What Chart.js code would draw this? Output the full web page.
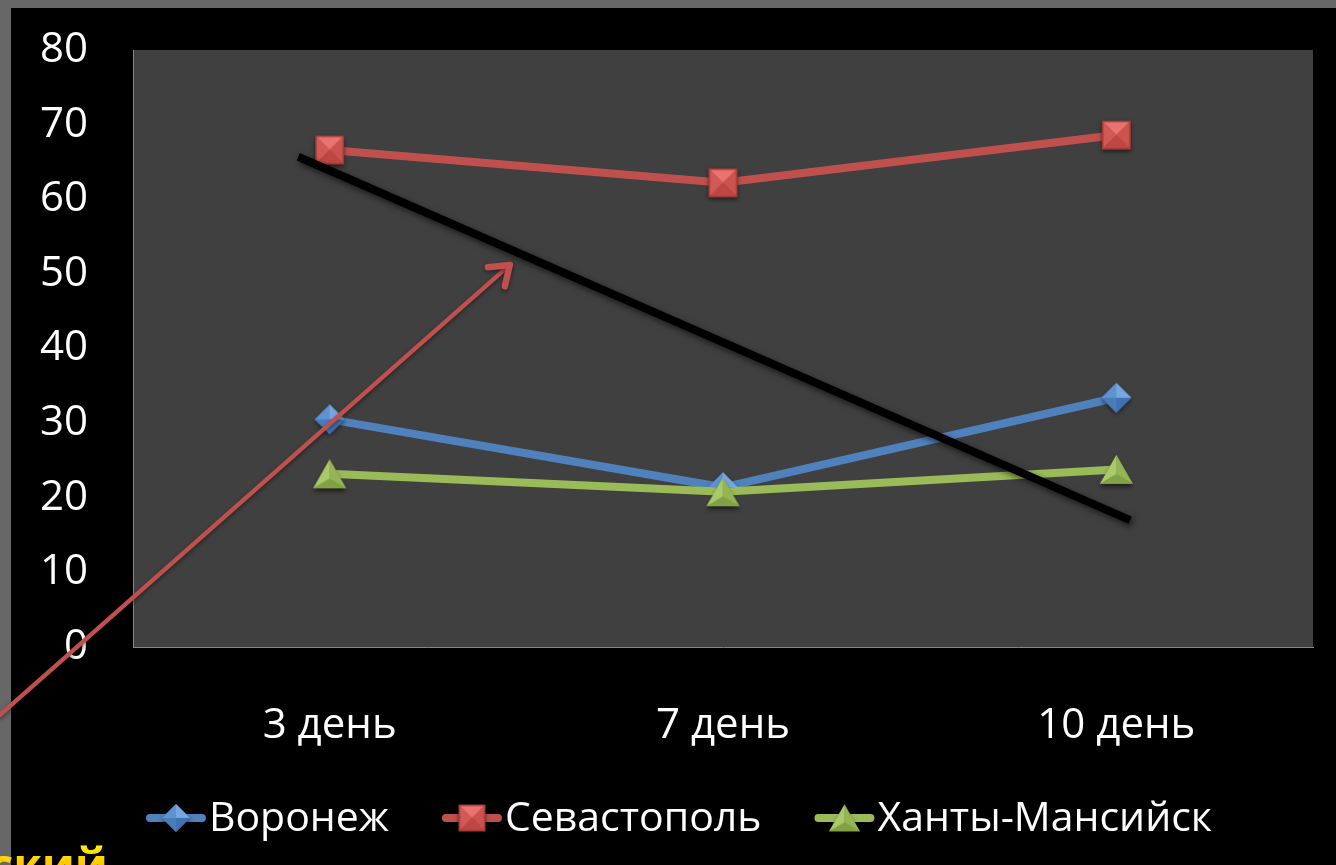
<!DOCTYPE html>
<html><head><meta charset="utf-8">
<script src="https://cdn.jsdelivr.net/npm/chart.js@4.4.1/dist/chart.umd.min.js"></script>
<style>html,body{margin:0;padding:0;background:#000;overflow:hidden}#wrap{width:1336px;height:865px;position:relative}</style>
</head><body><div id="wrap"><canvas id="c" width="1336" height="865"></canvas></div>
<script>
// ---- data ----
const categories = ['3 день', '7 день', '10 день'];
const seriesNames = ['Воронеж', 'Севастополь', 'Ханты-Мансийск'];
const voronezh = [30.5, 21.4, 33.4];
const sevastopol = [66.6, 62.2, 68.6];
const khanty = [23.2, 20.8, 23.8];
const yMin = 0, yMax = 80, yStep = 10;
// hand-drawn annotations, in chart coordinates (category index, value)
const trendX = [-0.08, 2.035];
const trendY = [65.7, 17.0];
const arrowX = [-0.838, 0.458];
const arrowY = [-9.1, 51.2];

const FONT = "'Open Sans', 'Noto Sans', sans-serif";
const colors = {blue: '#4f81bd', red: '#c0504d', green: '#9bbb59'};

function mk(w, h) { const c = document.createElement('canvas'); c.width = w; c.height = h; return c; }
function facet(g, pts, col) { g.beginPath(); g.moveTo(pts[0][0], pts[0][1]); for (const p of pts.slice(1)) g.lineTo(p[0], p[1]); g.closePath(); g.fillStyle = col; g.fill(); }

function diamond(r) {
  const s = Math.ceil(r * 2 + 12), c = mk(s, s), g = c.getContext('2d'), m = s / 2;
  g.save(); g.shadowColor = 'rgba(0,0,0,0.55)'; g.shadowBlur = 4; g.shadowOffsetY = 2;
  g.beginPath(); g.moveTo(m, m - r); g.lineTo(m + r, m); g.lineTo(m, m + r); g.lineTo(m - r, m); g.closePath();
  g.fillStyle = '#3d6aa3'; g.fill(); g.restore();
  facet(g, [[m, m], [m - r, m], [m, m - r]], '#5e92d2');
  facet(g, [[m, m], [m, m - r], [m + r, m]], '#77a7e0');
  facet(g, [[m, m], [m + r, m], [m, m + r]], '#3f72b0');
  facet(g, [[m, m], [m, m + r], [m - r, m]], '#4a7cba');
  return c;
}
function square(a) {
  const s = Math.ceil(a + 12), c = mk(s, s), g = c.getContext('2d'), m = s / 2, h = a / 2;
  g.save(); g.shadowColor = 'rgba(0,0,0,0.55)'; g.shadowBlur = 4; g.shadowOffsetY = 2;
  g.fillStyle = '#9e3936'; g.fillRect(m - h, m - h, a, a); g.restore();
  const i = h - 1.5;
  facet(g, [[m - i, m - i], [m + i, m - i], [m, m]], '#ea736f');
  facet(g, [[m - i, m - i], [m, m], [m - i, m + i]], '#d25a56');
  facet(g, [[m + i, m - i], [m + i, m + i], [m, m]], '#cb524e');
  facet(g, [[m - i, m + i], [m, m], [m + i, m + i]], '#bf4642');
  return c;
}
function triangle(w, ht) {
  const s = Math.ceil(Math.max(w, ht) + 12), c = mk(s, s), g = c.getContext('2d'), m = s / 2;
  const top = [m, m - ht / 2], bl = [m - w / 2, m + ht / 2], br = [m + w / 2, m + ht / 2], cen = [m, m + ht / 6];
  g.save(); g.shadowColor = 'rgba(0,0,0,0.55)'; g.shadowBlur = 4; g.shadowOffsetY = 3;
  g.beginPath(); g.moveTo(top[0], top[1]); g.lineTo(br[0], br[1]); g.lineTo(bl[0], bl[1]); g.closePath();
  g.fillStyle = '#7a9a3c'; g.fill(); g.restore();
  facet(g, [top, bl, cen], '#a9c96b');
  facet(g, [top, cen, br], '#95b554');
  facet(g, [bl, br, cen], '#82a145');
  return c;
}
const markers = [diamond(15), square(29), triangle(33, 29)];
const legendMarkers = [diamond(14), square(27), triangle(31, 27)];
const seriesColors = [colors.blue, colors.red, colors.green];
const seriesData = [voronezh, sevastopol, khanty];

const bgPlugin = {
  id: 'bg',
  beforeDraw(chart) {
    const ctx = chart.ctx, a = chart.chartArea;
    ctx.save();
    ctx.fillStyle = '#676767'; ctx.fillRect(0, 0, chart.width, chart.height);
    ctx.fillStyle = '#000'; ctx.fillRect(11, 8, chart.width - 11, chart.height - 8);
    ctx.fillStyle = '#404040'; ctx.fillRect(a.left, a.top, a.right - a.left, a.bottom - a.top);
    ctx.restore();
  },
  afterDatasetsDraw(chart) {
    const ctx = chart.ctx, xs = chart.scales.x, ys = chart.scales.y;
    const px = v => xs.getPixelForValue(v), py = v => ys.getPixelForValue(v);
    // black trend line
    ctx.save();
    ctx.shadowColor = 'rgba(0,0,0,0.6)'; ctx.shadowBlur = 6; ctx.shadowOffsetX = 2; ctx.shadowOffsetY = 3;
    ctx.strokeStyle = '#000'; ctx.lineWidth = 8; ctx.lineCap = 'butt';
    ctx.beginPath(); ctx.moveTo(px(trendX[0]), py(trendY[0])); ctx.lineTo(px(trendX[1]), py(trendY[1])); ctx.stroke();
    ctx.restore();
    // red arrow
    const x0 = px(arrowX[0]), y0 = py(arrowY[0]), x1 = px(arrowX[1]), y1 = py(arrowY[1]);
    const ang = Math.atan2(y1 - y0, x1 - x0);
    ctx.save();
    ctx.shadowColor = 'rgba(0,0,0,0.45)'; ctx.shadowBlur = 4; ctx.shadowOffsetY = 2;
    ctx.strokeStyle = colors.red; ctx.lineWidth = 4.5; ctx.lineCap = 'round'; ctx.lineJoin = 'round';
    ctx.beginPath(); ctx.moveTo(x0, y0); ctx.lineTo(x1, y1); ctx.stroke();
    const L = 22, sp = 0.62;
    ctx.lineWidth = 6.5;
    ctx.beginPath();
    ctx.moveTo(x1 - L * Math.cos(ang - sp), y1 - L * Math.sin(ang - sp));
    ctx.lineTo(x1, y1);
    ctx.lineTo(x1 - L * Math.cos(ang + sp), y1 - L * Math.sin(ang + sp));
    ctx.stroke();
    ctx.restore();
  },
  afterDraw(chart) {
    const ctx = chart.ctx;
    // legend
    ctx.save();
    ctx.font = '41px ' + FONT;
    ctx.textBaseline = 'middle';
    const lineLen = 60, gapT = 3, gapItem = 53, cy = 818;
    const widths = seriesNames.map(n => ctx.measureText(n).width);
    const total = widths.reduce((s, w) => s + lineLen + gapT + w, 0) + gapItem * (seriesNames.length - 1);
    let x = 679 - total / 2;
    seriesNames.forEach((n, i) => {
      ctx.strokeStyle = seriesColors[i]; ctx.lineWidth = 8; ctx.lineCap = 'round';
      ctx.beginPath(); ctx.moveTo(x + 4, cy); ctx.lineTo(x + lineLen - 4, cy); ctx.stroke();
      const im = legendMarkers[i];
      ctx.drawImage(im, x + lineLen / 2 - im.width / 2, cy - im.height / 2);
      ctx.fillStyle = '#fff'; ctx.textAlign = 'left';
      ctx.fillText(n, x + lineLen + gapT, cy + 1);
      x += lineLen + gapT + widths[i] + gapItem;
    });
    // partially visible slide title text at bottom-left
    ctx.font = 'bold 46px ' + FONT;
    ctx.textAlign = 'right'; ctx.textBaseline = 'alphabetic';
    const gr = ctx.createLinearGradient(0, 845, 0, 885);
    gr.addColorStop(0, '#fff200'); gr.addColorStop(1, '#ff9900');
    ctx.fillStyle = gr;
    ctx.fillText('ский', 108, 882);
    ctx.restore();
  }
};

const datasets = seriesNames.map((name, i) => ({
  label: name,
  data: seriesData[i],
  borderColor: seriesColors[i],
  backgroundColor: seriesColors[i],
  borderWidth: 8,
  pointStyle: markers[i],
  pointRadius: 14,
  pointHoverRadius: 14,
  tension: 0,
  fill: false,
  order: 2 - i
}));

new Chart(document.getElementById('c'), {
  type: 'line',
  data: {labels: categories, datasets},
  options: {
    responsive: false,
    animation: false,
    devicePixelRatio: 1,
    layout: {padding: {top: 50, right: 23, left: 0, bottom: 0}},
    plugins: {legend: {display: false}, tooltip: {enabled: false}},
    scales: {
      x: {
        type: 'category', offset: true,
        grid: {display: false},
        border: {display: true, color: '#868686', width: 1},
        ticks: {color: '#fff', font: {family: FONT, size: 42}, padding: 46, maxRotation: 0},
        afterFit(s) { s.height = 218; s.paddingLeft = 0; s.paddingRight = 0; }
      },
      y: {
        min: yMin, max: yMax,
        grid: {display: false},
        border: {display: true, color: '#868686', width: 1},
        ticks: {stepSize: yStep, color: '#fff', font: {family: FONT, size: 42}, padding: 37},
        afterFit(s) { s.width = 133; s.paddingTop = 0; s.paddingBottom = 0; }
      }
    }
  },
  plugins: [bgPlugin]
});
</script></body></html>
